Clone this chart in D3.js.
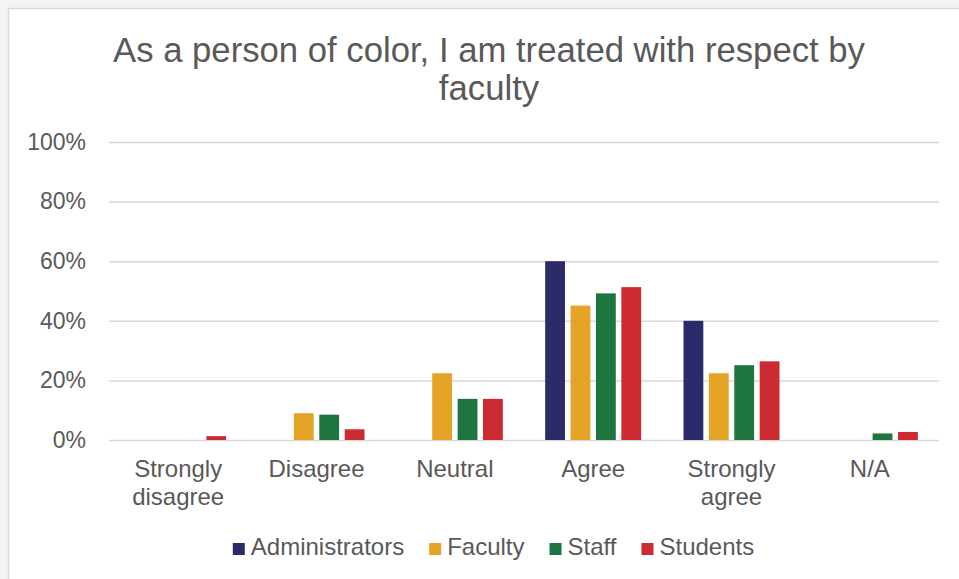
<!DOCTYPE html>
<html>
<head>
<meta charset="utf-8">
<script src="https://cdn.jsdelivr.net/npm/d3@7"></script>
<style>
  html, body { margin: 0; padding: 0; background: #f4f4f4; }
  svg { display: block; }
  text { font-family: "Liberation Sans", Arial, sans-serif; fill: #595959; }
</style>
</head>
<body>
<svg id="chart" width="959" height="579"></svg>
<script>
const titleLines = ["As a person of color, I am treated with respect by", "faculty"];
const categories = [["Strongly", "disagree"], ["Disagree"], ["Neutral"], ["Agree"], ["Strongly", "agree"], ["N/A"]];
const seriesNames = ["Administrators", "Faculty", "Staff", "Students"];
const seriesColors = ["#2c2a6b", "#e5a425", "#1d7540", "#cc2b31"];
const administrators = [0, 0, 0, 60, 40, 0];
const faculty = [0, 9.0, 22.4, 45.1, 22.4, 0];
const staff = [0, 8.5, 13.8, 49.2, 25.1, 2.2];
const students = [1.3, 3.6, 13.8, 51.3, 26.4, 2.7];
const yTicks = [0, 20, 40, 60, 80, 100];

const seriesValues = [administrators, faculty, staff, students];
const svg = d3.select("#chart");

// chart area frame
svg.append("rect").attr("x", 8.5).attr("y", 8.5).attr("width", 980).attr("height", 600)
  .attr("fill", "#ffffff").attr("stroke", "#d9d9d9").attr("stroke-width", 1.5);

// title
const title = svg.append("text").attr("text-anchor", "middle").style("font-size", "34.7px");
titleLines.forEach((t, i) => {
  title.append("tspan").attr("x", 489).attr("y", 62 + i * 38).text(t);
});

const catIdx = categories.map((c, i) => i);
const x0 = d3.scaleBand().domain(catIdx).range([109, 939]).padding(0);
const groupW = 96;
const x1 = d3.scaleBand().domain(seriesNames).range([0, groupW]).paddingInner(0.22).paddingOuter(0);
const y = d3.scaleLinear().domain([0, 100]).range([440, 142]);

// gridlines
const yAxis = d3.axisLeft(y).tickValues(yTicks).tickSize(-(939 - 109)).tickFormat(d => d + "%");
const gy = svg.append("g").attr("transform", "translate(109,0)").call(yAxis);
gy.select(".domain").remove();
gy.selectAll(".tick line").attr("stroke", "#d9d9d9").attr("stroke-width", 1.5);
gy.selectAll(".tick text").attr("x", -23).style("font-size", "23px").attr("fill", "#595959")
  .attr("font-family", "Liberation Sans, Arial, sans-serif");

// bars
const groups = svg.append("g").selectAll("g").data(catIdx).join("g")
  .attr("transform", d => `translate(${x0(d) + (x0.bandwidth() - groupW) / 2},0)`);
groups.selectAll("rect").data(ci => seriesNames.map((s, si) => ({ s, si, v: seriesValues[si][ci] })).filter(d => d.v > 0))
  .join("rect")
  .attr("x", d => x1(d.s))
  .attr("width", x1.bandwidth())
  .attr("y", d => y(d.v))
  .attr("height", d => y(0) - y(d.v))
  .attr("fill", d => seriesColors[d.si]);

// x labels
const xl = svg.append("g");
categories.forEach((lines, i) => {
  const t = xl.append("text").attr("text-anchor", "middle").style("font-size", "24px");
  lines.forEach((ln, j) => {
    t.append("tspan").attr("x", x0(i) + x0.bandwidth() / 2).attr("y", 477 + j * 28).text(ln);
  });
});

// legend
const leg = svg.append("g");
let cx = 0;
seriesNames.forEach((s, i) => {
  const g = leg.append("g");
  g.append("rect").attr("x", 0).attr("y", 543).attr("width", 12).attr("height", 12).attr("fill", seriesColors[i]);
  const t = g.append("text").attr("x", 18).attr("y", 555).style("font-size", "24px").text(s);
  const w = 18 + t.node().getComputedTextLength();
  g.attr("transform", `translate(${cx},0)`);
  cx += w + 25;
});
const total = cx - 25;
leg.attr("transform", `translate(${493.5 - total / 2},0)`);
</script>
</body>
</html>
